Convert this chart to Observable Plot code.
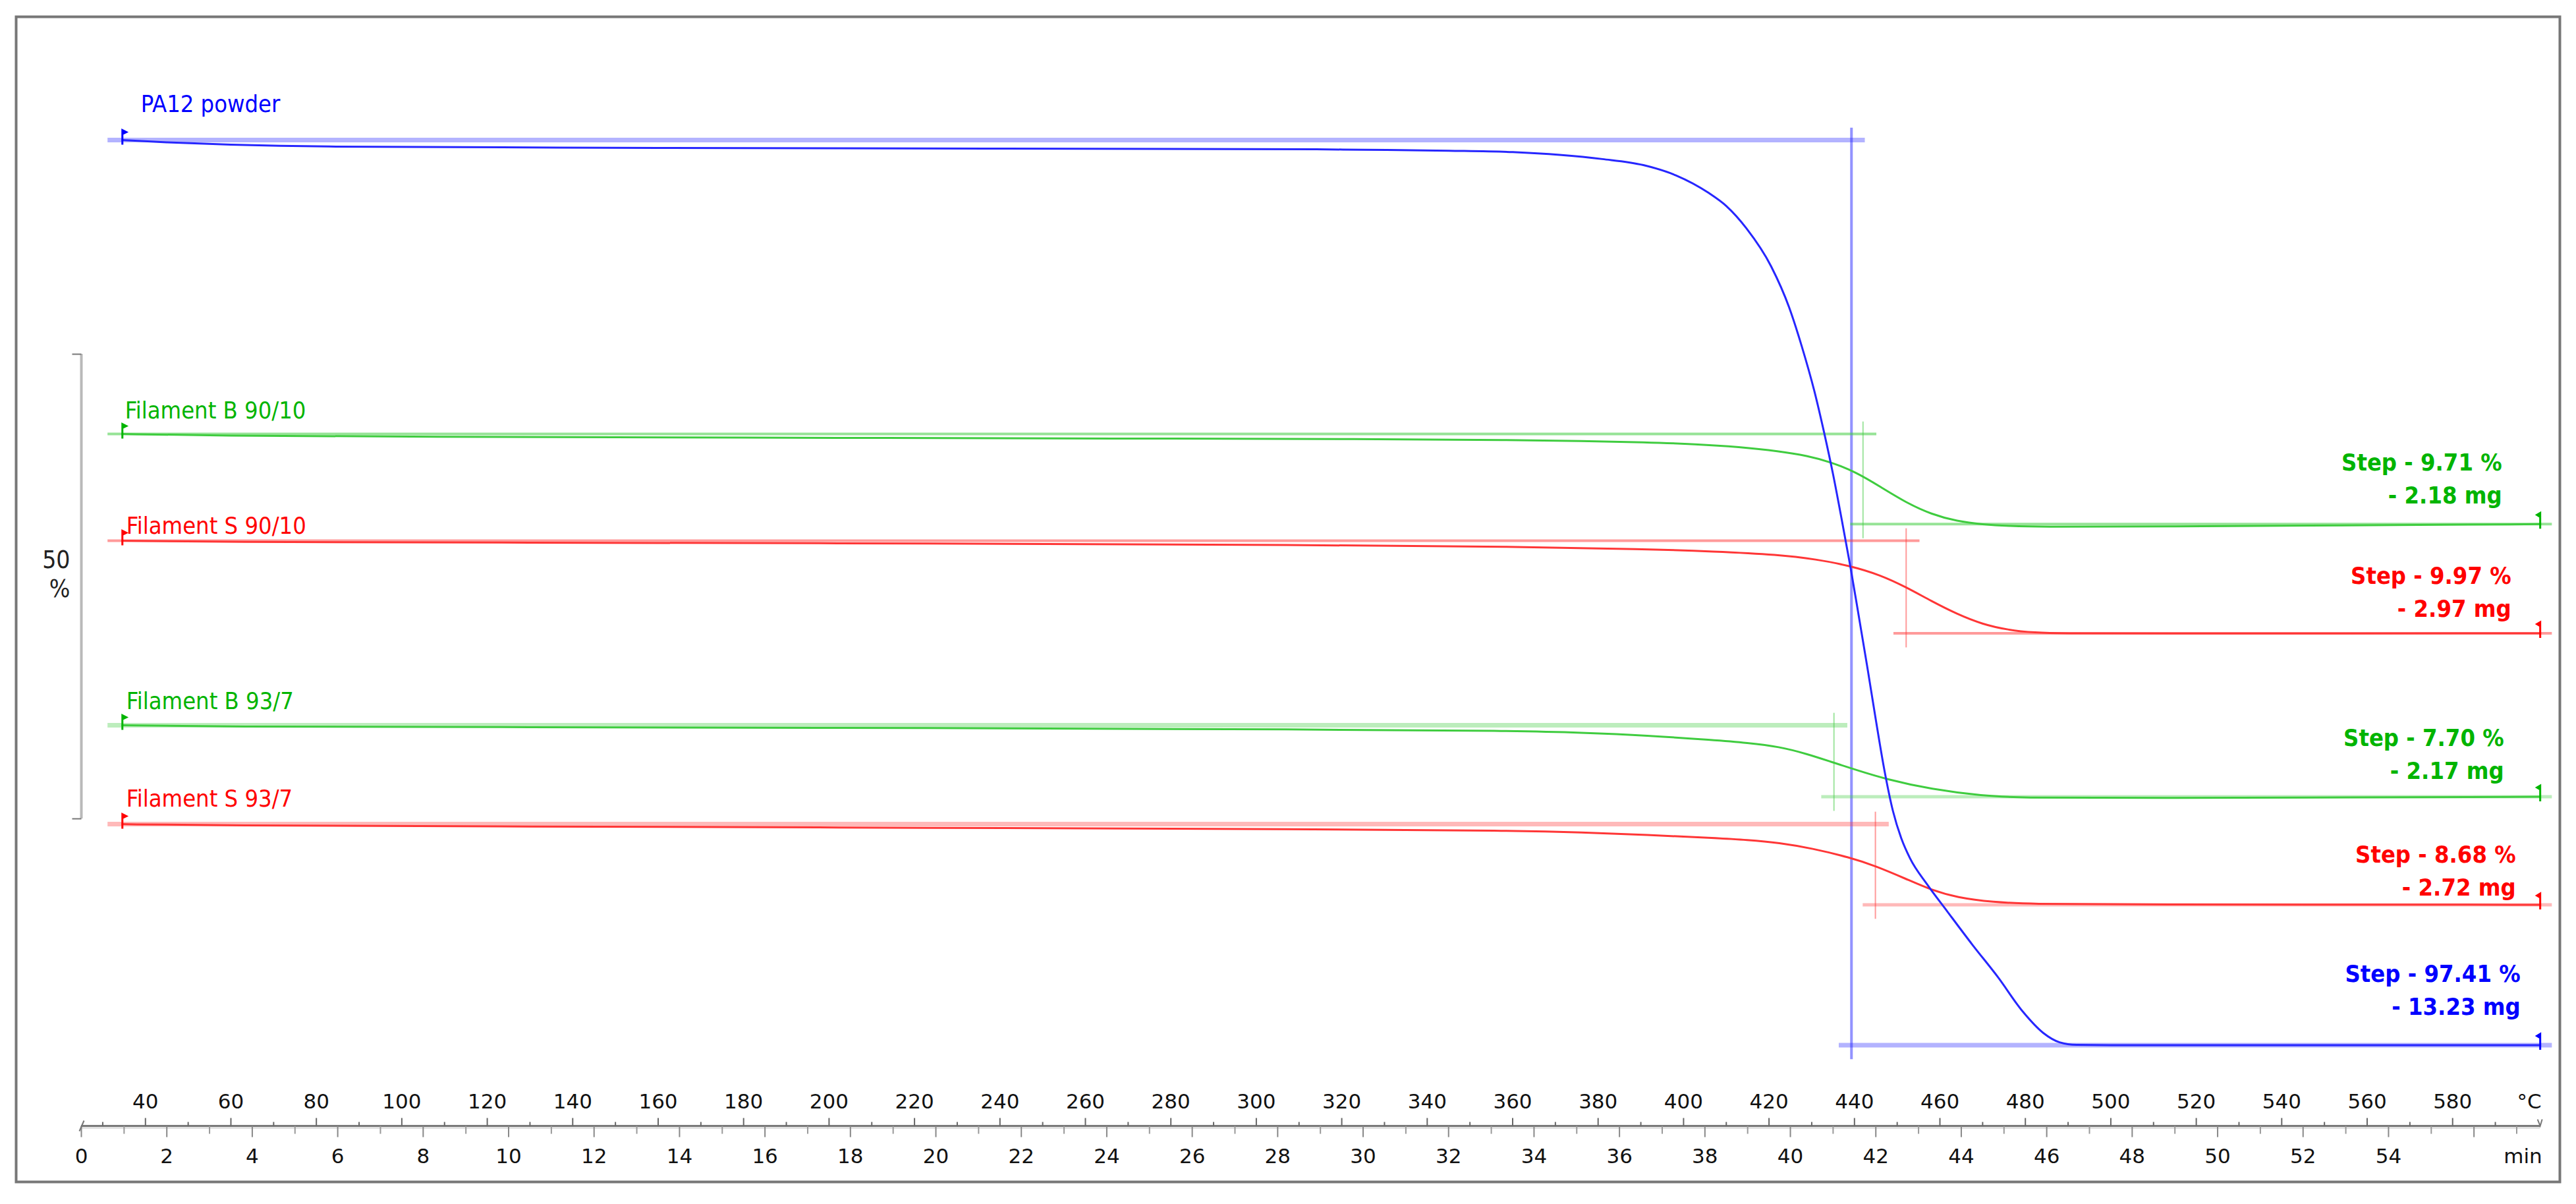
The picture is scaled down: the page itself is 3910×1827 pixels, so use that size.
<!DOCTYPE html>
<html><head><meta charset="utf-8">
<script src="https://cdn.jsdelivr.net/npm/d3@7"></script>
<script src="https://cdn.jsdelivr.net/npm/@observablehq/plot@0.6"></script>
<style>body{margin:0;background:#fff}#chart svg{display:block}</style>
</head><body><div id="chart"></div>
<script>
// ---------------- data ----------------
const seriesNames = ["PA12 powder", "Filament B 90/10", "Filament S 90/10", "Filament B 93/7", "Filament S 93/7"];
// stacked display: level (in %) at which each curve's 100 % sits
const stackOffset = [106.1, 74.47, 62.98, 43.12, 32.48];
const stepPercent = [97.41, 9.71, 9.97, 7.70, 8.68];
const stepMass = [13.23, 2.18, 2.97, 2.17, 2.72];
const stepLimit = [41.43, 41.70, 42.71, 41.02, 41.99]; // min

const pa12Time = [0.96, 2.0, 3.5, 5.8, 13.5, 21.2, 28.9, 30, 32, 33.5, 34.6, 35.6, 36.56, 37.32, 38.09, 38.5, 38.97, 39.55, 39.97, 40.26, 40.56, 40.8, 41.0, 41.2, 41.4, 41.6, 41.8, 42.0, 42.2, 42.4, 42.6, 42.8, 43.2, 43.67, 44.26, 44.86, 45.44, 45.92, 46.3, 46.7, 47.5, 57.55];
const pa12Mass = [100, 99.75, 99.5, 99.3, 99.15, 99.08, 99.0, 98.95, 98.85, 98.7, 98.4, 97.95, 97.3, 96.2, 94.3, 92.9, 90.5, 86.4, 82.0, 77.9, 73.0, 68.3, 64.0, 59.2, 54.2, 48.8, 43.3, 37.6, 32.2, 27.8, 24.8, 22.7, 19.9, 17.0, 13.4, 9.9, 6.2, 3.9, 2.9, 2.62, 2.59, 2.59];

const b9010Time = [0.96, 3, 8, 15, 25, 30, 33.6, 35.1, 36.6, 37.8, 38.8, 39.74, 40.4, 40.93, 41.53, 42.11, 42.71, 43.3, 43.9, 44.5, 45.1, 46, 47.45, 57.55];
const b9010Mass = [100, 99.8, 99.7, 99.6, 99.5, 99.45, 99.35, 99.25, 99.1, 98.9, 98.6, 98.15, 97.65, 97.0, 95.9, 94.3, 92.6, 91.35, 90.6, 90.25, 90.08, 90.0, 90.0, 90.29];

const s9010Time = [0.96, 3, 10, 20, 28.9, 33.6, 36.6, 38.2, 39.74, 40.6, 41.4, 42.11, 42.71, 43.3, 43.9, 44.5, 45.09, 45.69, 46.5, 47.45, 57.55];
const s9010Mass = [100, 99.85, 99.8, 99.7, 99.55, 99.35, 99.1, 98.85, 98.5, 98.0, 97.3, 96.3, 95.0, 93.5, 92.1, 91.0, 90.4, 90.1, 90.02, 90.0, 90.03];

const b937Time = [0.96, 3, 10, 20, 28.9, 33.6, 35.1, 36.65, 38.2, 39.0, 39.74, 40.4, 40.93, 41.53, 42.23, 43.3, 44.5, 45.44, 47.45, 57.55];
const b937Mass = [100, 99.85, 99.8, 99.7, 99.55, 99.4, 99.2, 98.9, 98.4, 98.1, 97.7, 96.9, 96.1, 95.2, 94.2, 93.1, 92.4, 92.2, 92.15, 92.3];

const s937Time = [0.96, 3, 10, 20, 28.9, 33.6, 35.1, 36.65, 38.2, 39.0, 39.74, 40.5, 41.4, 41.99, 42.71, 43.3, 43.9, 44.73, 45.69, 47.45, 57.55];
const s937Mass = [100, 99.85, 99.75, 99.6, 99.45, 99.3, 99.1, 98.85, 98.5, 98.3, 98.0, 97.4, 96.4, 95.5, 94.1, 92.9, 92.1, 91.6, 91.4, 91.35, 91.32];

const seriesTime = [pa12Time, b9010Time, s9010Time, b937Time, s937Time];
const seriesMass = [pa12Mass, b9010Mass, s9010Mass, b937Mass, s937Mass];

const startTemp = 25, heatingRate = 10;   // °C at 0 min, K/min
const tempMajor = [40, 60, 80, 100, 120, 140, 160, 180, 200, 220, 240, 260, 280, 300, 320, 340, 360, 380, 400, 420, 440, 460, 480, 500, 520, 540, 560, 580];
const tempMinor = [30, 50, 70, 90, 110, 130, 150, 170, 190, 210, 230, 250, 270, 290, 310, 330, 350, 370, 390, 410, 430, 450, 470, 490, 510, 530, 550, 570, 590];
const timeMajor = [0, 2, 4, 6, 8, 10, 12, 14, 16, 18, 20, 22, 24, 26, 28, 30, 32, 34, 36, 38, 40, 42, 44, 46, 48, 50, 52, 54, 56];
const timeLabels = [0, 2, 4, 6, 8, 10, 12, 14, 16, 18, 20, 22, 24, 26, 28, 30, 32, 34, 36, 38, 40, 42, 44, 46, 48, 50, 52, 54];
const timeMinor = [1, 3, 5, 7, 9, 11, 13, 15, 17, 19, 21, 23, 25, 27, 29, 31, 33, 35, 37, 39, 41, 43, 45, 47, 49, 51, 53, 55, 57];
const scaleBarLow = 33.05, scaleBarSpan = 50;
const unitTemp = "°C", unitTime = "min";

// ---------------- styles ----------------
const curveColor = ["#2626ff", "#3fcc3f", "#ff3636", "#3fcc3f", "#ff3636"];
const textColor  = ["#0000ff", "#00b400", "#ff0000", "#00b400", "#ff0000"];
const curveKind  = ["monotone-x", "basis", "basis", "basis", "basis"];
const refStartW = [7, 4, 4, 7, 7];
const refEndW   = [7, 4, 4, 5, 5];
const refOpacity = [0.35, 0.55, 0.5, 0.35, 0.35];
const vertW     = [4, 2, 2, 2, 2];
const nameDx = [28, 4, 6, 6, 6];
const nameDy = [-42, -23, -10, -25, -27];
const stepDx = [-30, -58, -44, -55, -37];
const stepDy = [-46, -31, -25, -27, -14];
const LABEL_FONT = '"DejaVu Sans Condensed", "Liberation Sans", Arial, sans-serif';
const AXIS_FONT = '"DejaVu Sans", Verdana, sans-serif';

const toTime = T => (T - startTemp) / heatingRate;
const tEnd = pa12Time[pa12Time.length - 1];
const refStartT = 0.62, refEndT = 57.83;

const sym = (f) => ({draw(ctx) { f(ctx); }});
const flagStart = sym(c => { c.moveTo(0, 7); c.lineTo(0, -15); c.lineTo(6, -12); c.lineTo(0, -9); });
const flagEnd = sym(c => { c.moveTo(0, 7); c.lineTo(0, -17); c.lineTo(-5, -14); c.lineTo(0, -11); });
const tickUp = (n) => sym(c => { c.moveTo(0, 0); c.lineTo(0, -n); });
const tickDown = (n) => sym(c => { c.moveTo(0, 0); c.lineTo(0, n); });
const tickLeft = (n) => sym(c => { c.moveTo(0, 0); c.lineTo(-n, 0); });
const slash = sym(c => { c.moveTo(-3, 8); c.lineTo(4, -8); });
const arrowEnd = sym(c => { c.moveTo(-4, -10); c.lineTo(0, 0); c.lineTo(3, -10); });

const marks = [];
const zero = () => 0;
const idx = d3.range(seriesNames.length);

// reference (step evaluation) lines
for (const i of idx) {
  const top = stackOffset[i], bot = stackOffset[i] - stepPercent[i];
  marks.push(Plot.ruleY([top], {x1: refStartT, x2: stepLimit[i] + 0.32, stroke: curveColor[i], strokeOpacity: refOpacity[i], strokeWidth: refStartW[i]}));
  marks.push(Plot.ruleY([bot], {x1: stepLimit[i] - 0.29, x2: refEndT, stroke: curveColor[i], strokeOpacity: refOpacity[i], strokeWidth: refEndW[i]}));
  marks.push(Plot.ruleX([stepLimit[i]], {y1: top + 1.3, y2: bot - 1.55, stroke: curveColor[i], strokeOpacity: 0.5, strokeWidth: vertW[i]}));
}
// curves: filaments first, powder on top
for (const i of [4, 3, 2, 1, 0]) {
  const data = seriesTime[i].map((t, k) => ({t, v: stackOffset[i] + seriesMass[i][k] - 100}));
  marks.push(Plot.line(data, {x: "t", y: "v", stroke: curveColor[i], strokeWidth: 3, curve: curveKind[i]}));
  const first = data[0], last = data[data.length - 1];
  marks.push(Plot.dot([first], {x: "t", y: "v", symbol: flagStart, stroke: textColor[i], fill: textColor[i], strokeWidth: 3}));
  marks.push(Plot.dot([last], {x: "t", y: "v", symbol: flagEnd, stroke: textColor[i], fill: textColor[i], strokeWidth: 3}));
  marks.push(Plot.text([first], {x: "t", y: "v", text: () => seriesNames[i], textAnchor: "start", lineAnchor: "bottom", dx: nameDx[i], dy: nameDy[i], fill: textColor[i], fontSize: 36, fontFamily: LABEL_FONT}));
  marks.push(Plot.text([{t: last.t, v: stackOffset[i] - stepPercent[i]}], {x: "t", y: "v",
    text: () => `Step - ${stepPercent[i].toFixed(2)} %\n- ${stepMass[i].toFixed(2)} mg`,
    textAnchor: "end", lineAnchor: "bottom", lineHeight: 1.4, dx: stepDx[i], dy: stepDy[i], fill: textColor[i], fontSize: 36, fontWeight: "bold", fontFamily: LABEL_FONT}));
}

// bottom dual axis
marks.push(Plot.ruleY([0], {x1: 0, x2: tEnd, stroke: "#e2e2e2", strokeWidth: 3, dy: 3}));
marks.push(Plot.ruleY([0], {x1: 0, x2: tEnd, stroke: "#7a7a7a", strokeWidth: 3}));
marks.push(Plot.dot(tempMajor, {x: toTime, y: zero, symbol: tickUp(12), stroke: "#666", strokeWidth: 2, fill: "none"}));
marks.push(Plot.dot(tempMinor, {x: toTime, y: zero, symbol: tickUp(6), stroke: "#666", strokeWidth: 2, fill: "none"}));
marks.push(Plot.dot(timeMajor, {x: d => d, y: zero, symbol: tickDown(17), stroke: "#888", strokeWidth: 2, fill: "none"}));
marks.push(Plot.dot(timeMinor, {x: d => d, y: zero, symbol: tickDown(12), stroke: "#999", strokeWidth: 2, fill: "none"}));
marks.push(Plot.dot([0], {x: d => d, y: zero, symbol: slash, stroke: "#777", strokeWidth: 2, fill: "none"}));
marks.push(Plot.dot([tEnd], {x: d => d, y: zero, symbol: arrowEnd, stroke: "#777", strokeWidth: 2, fill: "none"}));
marks.push(Plot.text(tempMajor, {x: toTime, y: zero, text: d => String(d), lineAnchor: "bottom", dy: -27, fill: "#111", fontSize: 31, fontFamily: AXIS_FONT}));
marks.push(Plot.text(timeLabels, {x: d => d, y: zero, text: d => String(d), lineAnchor: "bottom", dy: 56, fill: "#111", fontSize: 31, fontFamily: AXIS_FONT}));
marks.push(Plot.text([tEnd], {x: d => d, y: zero, text: () => unitTemp, textAnchor: "end", lineAnchor: "bottom", dy: -27, dx: 2, fill: "#111", fontSize: 31, fontFamily: AXIS_FONT}));
marks.push(Plot.text([tEnd], {x: d => d, y: zero, text: () => unitTime, textAnchor: "end", lineAnchor: "bottom", dy: 56, dx: 3, fill: "#111", fontSize: 31, fontFamily: AXIS_FONT}));

// 50 % scale bar
marks.push(Plot.ruleX([0], {y1: scaleBarLow, y2: scaleBarLow + scaleBarSpan, stroke: "#b9b9b9", strokeWidth: 4}));
marks.push(Plot.dot([scaleBarLow, scaleBarLow + scaleBarSpan], {x: zero, y: d => d, symbol: tickLeft(14), stroke: "#777", strokeWidth: 2, fill: "none"}));
marks.push(Plot.text([scaleBarSpan], {x: zero, y: () => scaleBarLow + scaleBarSpan / 2, text: d => `${d}\n%`, textAnchor: "end", lineAnchor: "middle", lineHeight: 1.2, dx: -17, dy: -20, fill: "#222", fontSize: 37, fontFamily: LABEL_FONT}));

marks.push(Plot.frame({stroke: "#777", strokeWidth: 4}));

const chart = Plot.plot({
  width: 3910, height: 1827,
  marginLeft: 24, marginRight: 25, marginTop: 25, marginBottom: 34,
  x: {domain: [-1.5266, 58.01], axis: null},
  y: {domain: [-6.028, 119.36], axis: null},
  style: {background: "#fff", fontFamily: LABEL_FONT},
  marks
});
document.getElementById("chart").appendChild(chart);
</script></body></html>
